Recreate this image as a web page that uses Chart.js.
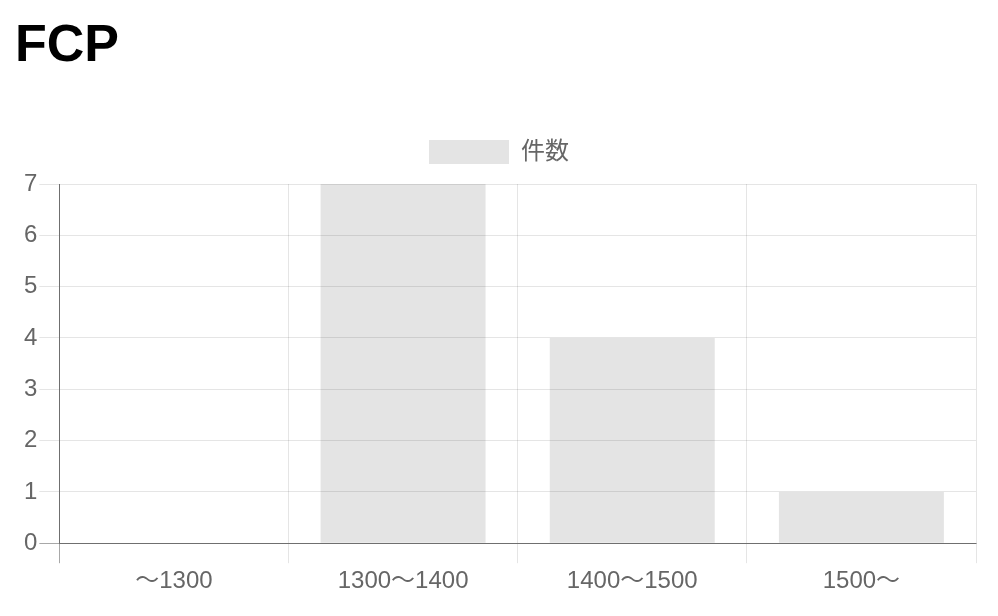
<!DOCTYPE html>
<html>
<head>
<meta charset="utf-8">
<script src="https://cdn.jsdelivr.net/npm/chart.js@4/dist/chart.umd.min.js"></script>
<style>
  body { margin: 0; background: #fff; }
  h1 {
    position: absolute; left: 15px; top: 13px; margin: 0;
    font-family: "Liberation Sans", Arial, sans-serif;
    font-size: 52px; font-weight: bold; color: #000;
  }
  .wrap { position: absolute; left: 16px; top: 120px; width: 966px; height: 496px; }
</style>
</head>
<body>
<h1>FCP</h1>
<div class="wrap"><canvas id="fcpChart" width="966" height="496"></canvas></div>
<script>
let categories = ['〜1300', '1300〜1400', '1400〜1500', '1500〜'];
let counts = [0, 7, 4, 1];
let yTicks = [0, 1, 2, 3, 4, 5, 6, 7];

let fontFamily = "'Liberation Sans', 'Noto Sans CJK JP', sans-serif";
let gridColor = 'rgba(0, 0, 0, 0.1)';
let axisColor = 'rgba(0, 0, 0, 0.34)';

// the first line of each axis is drawn darker, like the old zero line
let lineColor = (ctx) => ctx.index === 0 ? axisColor : gridColor;

// a little extra room under the legend
let legendGap = {
    id: 'legendGap',
    beforeInit(chart) {
        let fit = chart.legend.fit;
        chart.legend.fit = function () {
            fit.bind(chart.legend)();
            this.height += 10;
        };
    }
};

var fcpChart = new Chart(document.getElementById('fcpChart'), {
    type: 'bar',
    data: {
        labels: categories,
        datasets: [{
            label: '件数',
            data: counts,
            backgroundColor: 'rgba(0, 0, 0, 0.105)',
            borderWidth: 0
        }]
    },
    options: {
        responsive: false,
        animation: false,
        devicePixelRatio: 1,
        layout: { padding: { left: 6, right: 6, bottom: 16 } },
        plugins: {
            legend: {
                labels: {
                    boxWidth: 80,
                    boxHeight: 24,
                    padding: 20,
                    color: '#666',
                    font: { family: fontFamily, size: 24 }
                }
            },
            tooltip: { enabled: false }
        },
        scales: {
            x: {
                grid: { color: lineColor, tickLength: 20 },
                border: { color: axisColor },
                ticks: { color: '#666', padding: 4, font: { family: fontFamily, size: 24 } }
            },
            y: {
                min: 0,
                max: yTicks[yTicks.length - 1],
                grid: { color: lineColor, tickLength: 20 },
                border: { color: axisColor },
                ticks: { stepSize: 1, color: '#666', padding: 2, font: { family: fontFamily, size: 24 } }
            }
        }
    },
    plugins: [legendGap]
});
</script>
</body>
</html>
